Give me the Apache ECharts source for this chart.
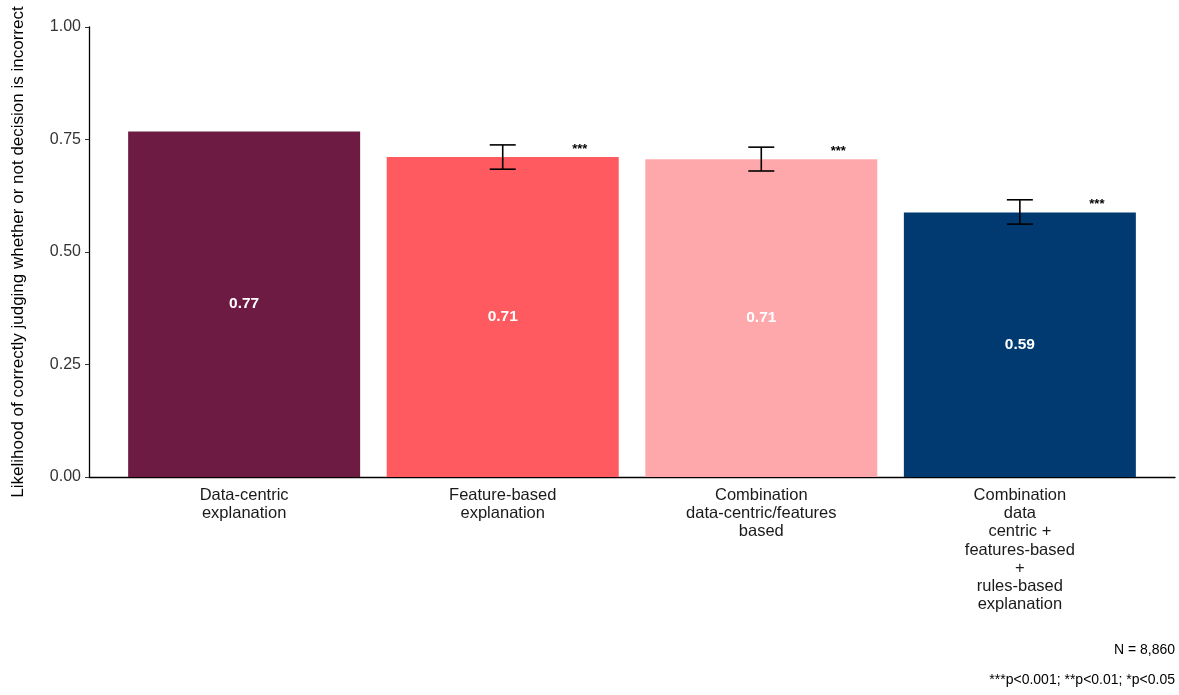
<!DOCTYPE html>
<html>
<head>
<meta charset="utf-8">
<script src="https://cdn.jsdelivr.net/npm/echarts@6/dist/echarts.min.js"></script>
<style>
  html, body { margin: 0; padding: 0; background: #fff; }
</style>
</head>
<body>
<div id="chart" style="width: 1179px;height:695px;"></div>
<script type="text/javascript">
    // data
    let categories = ['Data-centric\nexplanation', 'Feature-based\nexplanation',
        'Combination\ndata-centric/features\nbased',
        'Combination\ndata\ncentric +\nfeatures-based\n+\nrules-based\nexplanation'];
    let values = [0.768, 0.711, 0.706, 0.588];
    let barLabels = ['0.77', '0.71', '0.71', '0.59'];
    let errLow = [null, 0.684, 0.680, 0.562];
    let errHigh = [null, 0.738, 0.733, 0.616];
    let stars = ['', '***', '***', '***'];
    let colors = ['#6e1b44', '#ff5a5f', '#ffa8ab', '#003a70'];
    let yTicks = [0, 0.25, 0.5, 0.75, 1];

    let font = 'Liberation Sans, Arial, sans-serif';
    let myChart = echarts.init(document.getElementById('chart'));

    let barData = values.map(function (v, i) {
        return {
            value: [i + 1, v],
            itemStyle: { color: colors[i] },
            label: { formatter: barLabels[i] }
        };
    });
    let errData = values.map(function (v, i) {
        return [i + 1, errLow[i], errHigh[i], v, i];
    });

    let option = {
        animation: false,
        textStyle: { fontFamily: font },
        grid: { left: 89, right: 4, top: 27, bottom: 218, containLabel: false },
        xAxis: {
            type: 'value',
            min: 0.4,
            max: 4.6,
            splitLine: { show: false },
            axisLine: { show: true, lineStyle: { color: '#000', width: 1.3 } },
            axisTick: { show: false },
            axisLabel: {
                customValues: [1, 2, 3, 4],
                formatter: function (v) { return categories[Math.round(v) - 1]; },
                color: '#1a1a1a',
                fontSize: 16.5,
                lineHeight: 18.3,
                margin: 9,
                fontFamily: font
            }
        },
        yAxis: {
            type: 'value',
            min: 0,
            max: 1,
            interval: 0.25,
            name: 'Likelihood of correctly judging whether or not decision is incorrect',
            nameLocation: 'middle',
            nameGap: 62,
            nameTextStyle: { fontSize: 17, color: '#000', fontFamily: font },
            splitLine: { show: false },
            axisLine: { show: true, lineStyle: { color: '#000', width: 1.3 } },
            axisTick: { show: true, length: 4, lineStyle: { color: '#333' } },
            axisLabel: {
                customValues: yTicks,
                formatter: function (v) { return v.toFixed(2); },
                color: '#333',
                fontSize: 16,
                margin: 8,
                fontFamily: font
            }
        },
        series: [
            {
                type: 'bar',
                barWidth: 232,
                data: barData,
                label: {
                    show: true,
                    position: 'inside',
                    color: '#fff',
                    fontWeight: 'bold',
                    fontSize: 15.5,
                    fontFamily: font
                }
            },
            {
                type: 'custom',
                data: errData,
                z: 10,
                renderItem: function (params, api) {
                    let i = api.value(4);
                    let x = api.coord([api.value(0), 0])[0];
                    let topBar = api.coord([api.value(0), api.value(3)])[1];
                    let children = [];
                    if (errLow[i] != null) {
                        let lo = api.coord([api.value(0), api.value(1)])[1];
                        let hi = api.coord([api.value(0), api.value(2)])[1];
                        let hw = 13;
                        let st = { stroke: '#000', lineWidth: 1.6 };
                        children.push({ type: 'line', shape: { x1: x, y1: lo, x2: x, y2: hi }, style: st });
                        children.push({ type: 'line', shape: { x1: x - hw, y1: lo, x2: x + hw, y2: lo }, style: st });
                        children.push({ type: 'line', shape: { x1: x - hw, y1: hi, x2: x + hw, y2: hi }, style: st });
                    }
                    if (stars[i]) {
                        children.push({
                            type: 'text',
                            style: {
                                text: stars[i],
                                x: x + 77,
                                y: topBar - 1,
                                align: 'center',
                                verticalAlign: 'bottom',
                                fontSize: 13,
                                fontWeight: 'bold',
                                fill: '#000',
                                fontFamily: font
                            }
                        });
                    }
                    return { type: 'group', children: children };
                }
            }
        ],
        graphic: [
            {
                type: 'text',
                right: 4,
                top: 643,
                style: { text: 'N = 8,860', fontSize: 14, fill: '#000', fontFamily: font }
            },
            {
                type: 'text',
                right: 4,
                top: 673,
                style: { text: '***p<0.001; **p<0.01; *p<0.05', fontSize: 14, fill: '#000', fontFamily: font }
            }
        ]
    };
    myChart.setOption(option);
</script>
</body>
</html>
